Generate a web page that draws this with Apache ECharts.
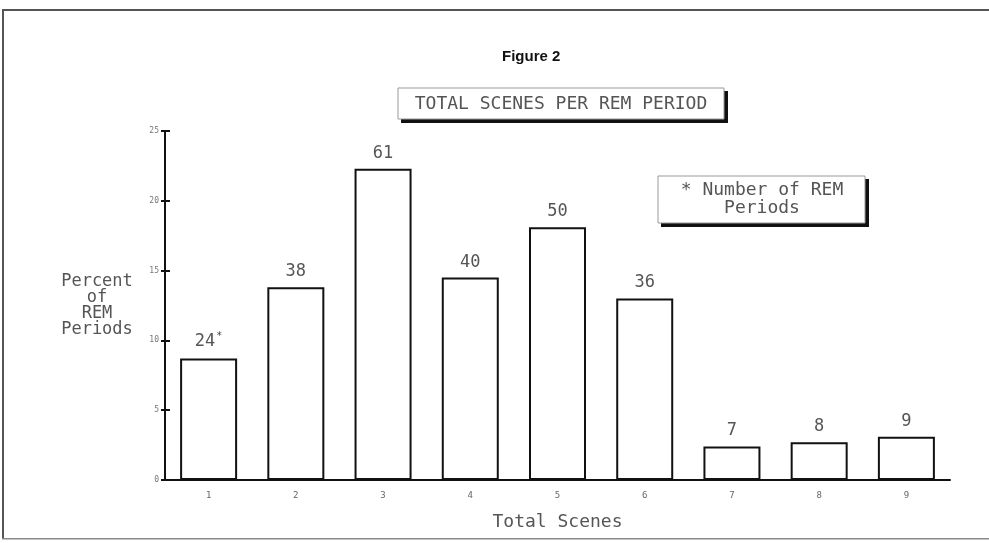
<!DOCTYPE html>
<html>
<head>
<meta charset="utf-8">
<script src="https://cdn.jsdelivr.net/npm/echarts@6/dist/echarts.min.js"></script>
<style>
html,body{margin:0;padding:0;background:#fff;}
#c{width:989px;height:543px;}
</style>
</head>
<body>
<div id="c"></div>
<script>
// Data
var categories = ['1', '2', '3', '4', '5', '6', '7', '8', '9'];
var percentValues = [8.7, 13.8, 22.3, 14.5, 18.1, 13.0, 2.4, 2.7, 3.1];
var periodCounts = [24, 38, 61, 40, 50, 36, 7, 8, 9];
var yTicks = [0, 5, 10, 15, 20, 25];

var mono = '"DejaVu Sans Mono", "Liberation Mono", monospace';
var chart = echarts.init(document.getElementById('c'));

chart.setOption({
  animation: false,
  backgroundColor: '#fff',
  grid: { left: 165, right: 39, top: 131, bottom: 63 },
  xAxis: {
    type: 'category',
    data: categories,
    axisLine: { lineStyle: { color: '#111', width: 2 } },
    axisTick: { show: false },
    axisLabel: { color: '#666', fontFamily: mono, fontSize: 9, margin: 11 },
    name: 'Total Scenes',
    nameLocation: 'middle',
    nameGap: 33,
    nameTextStyle: { color: '#555', fontFamily: mono, fontSize: 18 }
  },
  yAxis: [{
    type: 'value',
    min: yTicks[0],
    max: yTicks[yTicks.length - 1],
    interval: 5,
    splitLine: { show: false },
    axisLine: { show: true, lineStyle: { color: '#111', width: 2 } },
    axisTick: { show: true, length: 4, lineStyle: { color: '#111', width: 2 } },
    axisLabel: { color: '#777', fontFamily: mono, fontSize: 8, margin: 6 },
    name: 'Percent\nof\nREM\nPeriods',
    nameLocation: 'middle',
    nameRotate: 0,
    nameGap: 68,
    nameTextStyle: { color: '#555', fontFamily: mono, fontSize: 17, lineHeight: 16, align: 'center' }
  }, {
    type: 'value',
    position: 'left',
    min: yTicks[0],
    max: yTicks[yTicks.length - 1],
    interval: 5,
    splitLine: { show: false },
    axisLine: { show: false },
    axisTick: { show: true, inside: true, length: 5, lineStyle: { color: '#111', width: 2 } },
    axisLabel: { show: false }
  }],
  series: [{
    type: 'bar',
    data: percentValues,
    barWidth: 57,
    itemStyle: { color: '#fff', borderColor: '#111', borderWidth: 2 },
    label: {
      show: true,
      position: 'top',
      distance: 7,
      color: '#555',
      fontFamily: mono,
      fontSize: 17,
      formatter: function (p) {
        var n = periodCounts[p.dataIndex];
        return p.dataIndex === 0 ? n + '{s|*}' : '' + n;
      },
      rich: {
        s: { fontSize: 10, color: '#444', fontFamily: mono, padding: [0, 0, 10, 1] }
      }
    }
  }],
  graphic: [
    // page border
    { type: 'rect', shape: { x: 2, y: 9, width: 987, height: 2 }, style: { fill: '#555' } },
    { type: 'rect', shape: { x: 2, y: 9, width: 2, height: 530 }, style: { fill: '#555' } },
    { type: 'rect', shape: { x: 2, y: 538, width: 987, height: 1.5 }, style: { fill: '#888' } },
    // figure title
    { type: 'text', left: 502, top: 49, style: { text: 'Figure 2', fill: '#111', font: 'bold 15px "Liberation Sans", Arial, sans-serif' } },
    // title box
    { type: 'rect', shape: { x: 401, y: 91, width: 327, height: 32 }, style: { fill: '#111' } },
    { type: 'rect', shape: { x: 398, y: 88, width: 326, height: 31 }, style: { fill: '#fff', stroke: '#999', lineWidth: 1 } },
    { type: 'text', x: 561, y: 104, style: { text: 'TOTAL SCENES PER REM PERIOD', fill: '#555', font: '18px "DejaVu Sans Mono", monospace', textAlign: 'center', textVerticalAlign: 'middle' } },
    // legend box
    { type: 'rect', shape: { x: 661, y: 179, width: 208, height: 48 }, style: { fill: '#111' } },
    { type: 'rect', shape: { x: 658, y: 176, width: 207, height: 47 }, style: { fill: '#fff', stroke: '#999', lineWidth: 1 } },
    { type: 'text', x: 762, y: 199, style: { text: '* Number of REM\nPeriods', fill: '#555', font: '18px "DejaVu Sans Mono", monospace', textAlign: 'center', textVerticalAlign: 'middle', lineHeight: 18 } }
  ]
});
</script>
</body>
</html>
